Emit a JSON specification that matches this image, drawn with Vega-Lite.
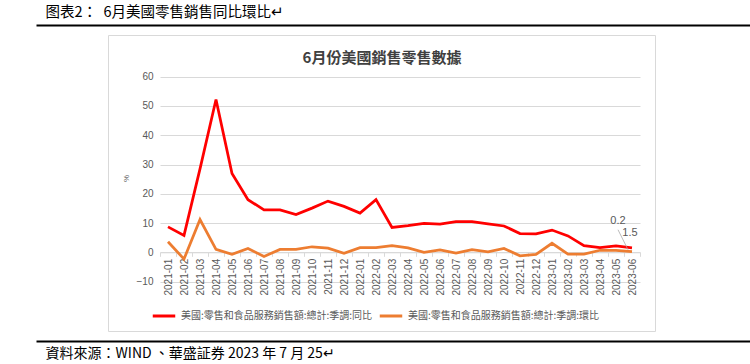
{
  "$schema": "https://vega.github.io/schema/vega-lite/v6.json",
  "autosize": {"type": "none"},
  "padding": {"left": 108, "top": 0, "right": 642, "bottom": 364},
  "background": "white",
  "config": {"view": {"stroke": null}, "font": "Noto Sans CJK TC"},
  "datasets": {
    "sales": [
      {"month": "2021-01", "series": "美國:零售和食品服務銷售額:總計:季調:同比", "value": 8.7},
      {"month": "2021-02", "series": "美國:零售和食品服務銷售額:總計:季調:同比", "value": 5.8},
      {"month": "2021-03", "series": "美國:零售和食品服務銷售額:總計:季調:同比", "value": 28.5},
      {"month": "2021-04", "series": "美國:零售和食品服務銷售額:總計:季調:同比", "value": 52.2},
      {"month": "2021-05", "series": "美國:零售和食品服務銷售額:總計:季調:同比", "value": 26.9},
      {"month": "2021-06", "series": "美國:零售和食品服務銷售額:總計:季調:同比", "value": 18.0},
      {"month": "2021-07", "series": "美國:零售和食品服務銷售額:總計:季調:同比", "value": 14.5},
      {"month": "2021-08", "series": "美國:零售和食品服務銷售額:總計:季調:同比", "value": 14.5},
      {"month": "2021-09", "series": "美國:零售和食品服務銷售額:總計:季調:同比", "value": 12.9},
      {"month": "2021-10", "series": "美國:零售和食品服務銷售額:總計:季調:同比", "value": 15.1},
      {"month": "2021-11", "series": "美國:零售和食品服務銷售額:總計:季調:同比", "value": 17.5},
      {"month": "2021-12", "series": "美國:零售和食品服務銷售額:總計:季調:同比", "value": 15.7},
      {"month": "2022-01", "series": "美國:零售和食品服務銷售額:總計:季調:同比", "value": 13.4},
      {"month": "2022-02", "series": "美國:零售和食品服務銷售額:總計:季調:同比", "value": 18.0},
      {"month": "2022-03", "series": "美國:零售和食品服務銷售額:總計:季調:同比", "value": 8.5},
      {"month": "2022-04", "series": "美國:零售和食品服務銷售額:總計:季調:同比", "value": 9.1},
      {"month": "2022-05", "series": "美國:零售和食品服務銷售額:總計:季調:同比", "value": 9.9},
      {"month": "2022-06", "series": "美國:零售和食品服務銷售額:總計:季調:同比", "value": 9.6},
      {"month": "2022-07", "series": "美國:零售和食品服務銷售額:總計:季調:同比", "value": 10.5},
      {"month": "2022-08", "series": "美國:零售和食品服務銷售額:總計:季調:同比", "value": 10.5},
      {"month": "2022-09", "series": "美國:零售和食品服務銷售額:總計:季調:同比", "value": 9.7},
      {"month": "2022-10", "series": "美國:零售和食品服務銷售額:總計:季調:同比", "value": 9.0},
      {"month": "2022-11", "series": "美國:零售和食品服務銷售額:總計:季調:同比", "value": 6.4},
      {"month": "2022-12", "series": "美國:零售和食品服務銷售額:總計:季調:同比", "value": 6.3},
      {"month": "2023-01", "series": "美國:零售和食品服務銷售額:總計:季調:同比", "value": 7.6},
      {"month": "2023-02", "series": "美國:零售和食品服務銷售額:總計:季調:同比", "value": 5.6},
      {"month": "2023-03", "series": "美國:零售和食品服務銷售額:總計:季調:同比", "value": 2.3},
      {"month": "2023-04", "series": "美國:零售和食品服務銷售額:總計:季調:同比", "value": 1.6},
      {"month": "2023-05", "series": "美國:零售和食品服務銷售額:總計:季調:同比", "value": 2.2},
      {"month": "2023-06", "series": "美國:零售和食品服務銷售額:總計:季調:同比", "value": 1.5},
      {"month": "2021-01", "series": "美國:零售和食品服務銷售額:總計:季調:環比", "value": 3.6},
      {"month": "2021-02", "series": "美國:零售和食品服務銷售額:總計:季調:環比", "value": -2.3},
      {"month": "2021-03", "series": "美國:零售和食品服務銷售額:總計:季調:環比", "value": 11.2},
      {"month": "2021-04", "series": "美國:零售和食品服務銷售額:總計:季調:環比", "value": 1.0},
      {"month": "2021-05", "series": "美國:零售和食品服務銷售額:總計:季調:環比", "value": -0.7},
      {"month": "2021-06", "series": "美國:零售和食品服務銷售額:總計:季調:環比", "value": 1.3},
      {"month": "2021-07", "series": "美國:零售和食品服務銷售額:總計:季調:環比", "value": -1.4},
      {"month": "2021-08", "series": "美國:零售和食品服務銷售額:總計:季調:環比", "value": 1.0},
      {"month": "2021-09", "series": "美國:零售和食品服務銷售額:總計:季調:環比", "value": 1.0},
      {"month": "2021-10", "series": "美國:零售和食品服務銷售額:總計:季調:環比", "value": 1.9},
      {"month": "2021-11", "series": "美國:零售和食品服務銷售額:總計:季調:環比", "value": 1.4},
      {"month": "2021-12", "series": "美國:零售和食品服務銷售額:總計:季調:環比", "value": -0.3},
      {"month": "2022-01", "series": "美國:零售和食品服務銷售額:總計:季調:環比", "value": 1.6},
      {"month": "2022-02", "series": "美國:零售和食品服務銷售額:總計:季調:環比", "value": 1.6},
      {"month": "2022-03", "series": "美國:零售和食品服務銷售額:總計:季調:環比", "value": 2.3},
      {"month": "2022-04", "series": "美國:零售和食品服務銷售額:總計:季調:環比", "value": 1.5},
      {"month": "2022-05", "series": "美國:零售和食品服務銷售額:總計:季調:環比", "value": 0.0},
      {"month": "2022-06", "series": "美國:零售和食品服務銷售額:總計:季調:環比", "value": 0.8},
      {"month": "2022-07", "series": "美國:零售和食品服務銷售額:總計:季調:環比", "value": -0.3},
      {"month": "2022-08", "series": "美國:零售和食品服務銷售額:總計:季調:環比", "value": 0.9},
      {"month": "2022-09", "series": "美國:零售和食品服務銷售額:總計:季調:環比", "value": 0.2},
      {"month": "2022-10", "series": "美國:零售和食品服務銷售額:總計:季調:環比", "value": 1.3},
      {"month": "2022-11", "series": "美國:零售和食品服務銷售額:總計:季調:環比", "value": -1.2},
      {"month": "2022-12", "series": "美國:零售和食品服務銷售額:總計:季調:環比", "value": -0.7},
      {"month": "2023-01", "series": "美國:零售和食品服務銷售額:總計:季調:環比", "value": 3.1},
      {"month": "2023-02", "series": "美國:零售和食品服務銷售額:總計:季調:環比", "value": -0.6},
      {"month": "2023-03", "series": "美國:零售和食品服務銷售額:總計:季調:環比", "value": -0.6},
      {"month": "2023-04", "series": "美國:零售和食品服務銷售額:總計:季調:環比", "value": 0.7},
      {"month": "2023-05", "series": "美國:零售和食品服務銷售額:總計:季調:環比", "value": 0.7},
      {"month": "2023-06", "series": "美國:零售和食品服務銷售額:總計:季調:環比", "value": 0.2}
    ],
    "labels": [
      {"month": "2023-06", "value": 0.2, "label": "0.2"},
      {"month": "2023-06", "value": 1.5, "label": "1.5"}
    ]
  },
  "bounds": "flush",
  "spacing": 10,
  "resolve": {"scale": {"color": "independent", "x": "independent", "y": "independent"}, "legend": {"color": "independent"}},
  "vconcat": [
    {
      "width": 547,
      "height": 25,
      "view": {"fill": "white", "stroke": null},
      "data": {"values": []},
      "mark": "point",
      "encoding": {
        "x": {"field": "v", "type": "quantitative", "scale": {"domain": [0, 1], "range": [-72, 642]},
          "axis": {"orient": "bottom", "domain": true, "domainColor": "#000000", "domainWidth": 2, "labels": false, "ticks": false, "grid": false,
            "title": "图表2：\u00a0\u00a06月美國零售銷售同比環比↵", "titleX": -63, "titleY": -8.5, "titleAlign": "left", "titleBaseline": "alphabetic", "titleAngle": 0, "titleFont": "Noto Sans CJK TC", "titleFontSize": 14.5, "titleFontWeight": "normal", "titleColor": "#000000"}}
      }
    },
    {
      "width": 547,
      "height": 296,
      "view": {"stroke": "#d9d9d9", "fill": "white", "strokeWidth": 1},
      "layer": [
        {
          "data": {"name": "sales"},
          "mark": {"type": "line", "strokeWidth": 2.75},
          "encoding": {
            "x": {"field": "month", "type": "ordinal", "bandPosition": 0.5,
              "scale": {"type": "band", "range": [52, 532], "paddingInner": 0, "paddingOuter": 0},
              "axis": {"orient": "bottom", "offset": -78.7, "domain": true, "domainColor": "#d9d9d9", "domainWidth": 1, "ticks": true, "tickBand": "extent", "tickColor": "#d9d9d9", "tickSize": 4, "labelAngle": -90, "labelPadding": 2, "labelFont": "Liberation Sans", "labelFontSize": 10, "labelColor": "#595959", "grid": false, "labelOverlap": false,
                "title": "6月份美國銷售零售數據", "titleX": 273.5, "titleY": -195.3, "titleAlign": "center", "titleBaseline": "middle", "titleAngle": 0, "titleFont": "Noto Sans CJK TC", "titleFontSize": 15, "titleFontWeight": "bold", "titleColor": "#404040"}},
            "y": {"field": "value", "type": "quantitative",
              "scale": {"domain": [-10, 60], "range": [246.6, 41.7], "nice": false, "zero": false},
              "axis": {"offset": -52, "domain": false, "ticks": false, "grid": true, "gridColor": "#d9d9d9", "gridWidth": 1, "values": [-10, 0, 10, 20, 30, 40, 50, 60], "labelPadding": 7, "labelFont": "Liberation Sans", "labelFontSize": 10, "labelColor": "#595959", "title": "%", "titleFont": "Liberation Sans", "titleFontSize": 8, "titleColor": "#595959", "titleFontWeight": "normal", "titleX": -34, "titleY": 143, "titleAngle": 270, "titleBaseline": "middle", "titleAlign": "center"}},
            "color": {"field": "series", "type": "nominal",
              "scale": {"domain": ["美國:零售和食品服務銷售額:總計:季調:同比", "美國:零售和食品服務銷售額:總計:季調:環比"], "range": ["#ff0000", "#ed7d31"]},
              "legend": {"orient": "none", "legendX": 43, "legendY": 268, "direction": "horizontal", "title": null, "symbolType": "stroke", "symbolStrokeWidth": 3, "symbolSize": 506, "labelFont": "Noto Sans CJK TC", "labelFontSize": 10, "labelColor": "#595959", "labelLimit": 400, "labelOffset": 4, "columnPadding": 0, "padding": 0}}
          }
        },
        {
          "data": {"name": "labels"},
          "transform": [{"filter": "datum.label === '0.2'"}],
          "mark": {"type": "text", "dx": -14, "dy": -31, "font": "Liberation Sans", "fontSize": 11, "color": "#595959"},
          "encoding": {
            "x": {"field": "month", "type": "ordinal", "bandPosition": 0.5},
            "y": {"field": "value", "type": "quantitative"},
            "text": {"field": "label"}
          }
        },
        {
          "data": {"name": "labels"},
          "transform": [{"filter": "datum.label === '1.5'"}],
          "mark": {"type": "text", "dx": -2, "dy": -15, "font": "Liberation Sans", "fontSize": 11, "color": "#595959"},
          "encoding": {
            "x": {"field": "month", "type": "ordinal", "bandPosition": 0.5},
            "y": {"field": "value", "type": "quantitative"},
            "text": {"field": "label"}
          }
        },
        {
          "data": {"name": "labels"},
          "transform": [{"filter": "datum.label === '0.2'"}],
          "mark": {"type": "point", "shape": "M-0.2,-0.1L-0.7,-1.1", "size": 1600, "filled": false, "stroke": "#a6a6a6", "strokeWidth": 0.75, "opacity": 1},
          "encoding": {
            "x": {"field": "month", "type": "ordinal", "bandPosition": 0.5},
            "y": {"field": "value", "type": "quantitative"}
          }
        }
      ]
    },
    {
      "width": 547,
      "height": 23,
      "view": {"fill": "white", "stroke": null},
      "data": {"values": []},
      "mark": "point",
      "encoding": {
        "x": {"field": "v", "type": "quantitative", "scale": {"domain": [0, 1], "range": [-72, 642]},
          "axis": {"orient": "top", "domain": true, "domainColor": "#000000", "domainWidth": 2, "labels": false, "ticks": false, "grid": false,
            "title": "資料來源：WIND 、華盛証券 2023 年 7 月 25↵", "titleX": -63, "titleY": 16, "titleAlign": "left", "titleBaseline": "alphabetic", "titleAngle": 0, "titleFont": "Noto Sans CJK TC", "titleFontSize": 14, "titleFontWeight": "normal", "titleColor": "#000000"}}
      }
    }
  ]
}
